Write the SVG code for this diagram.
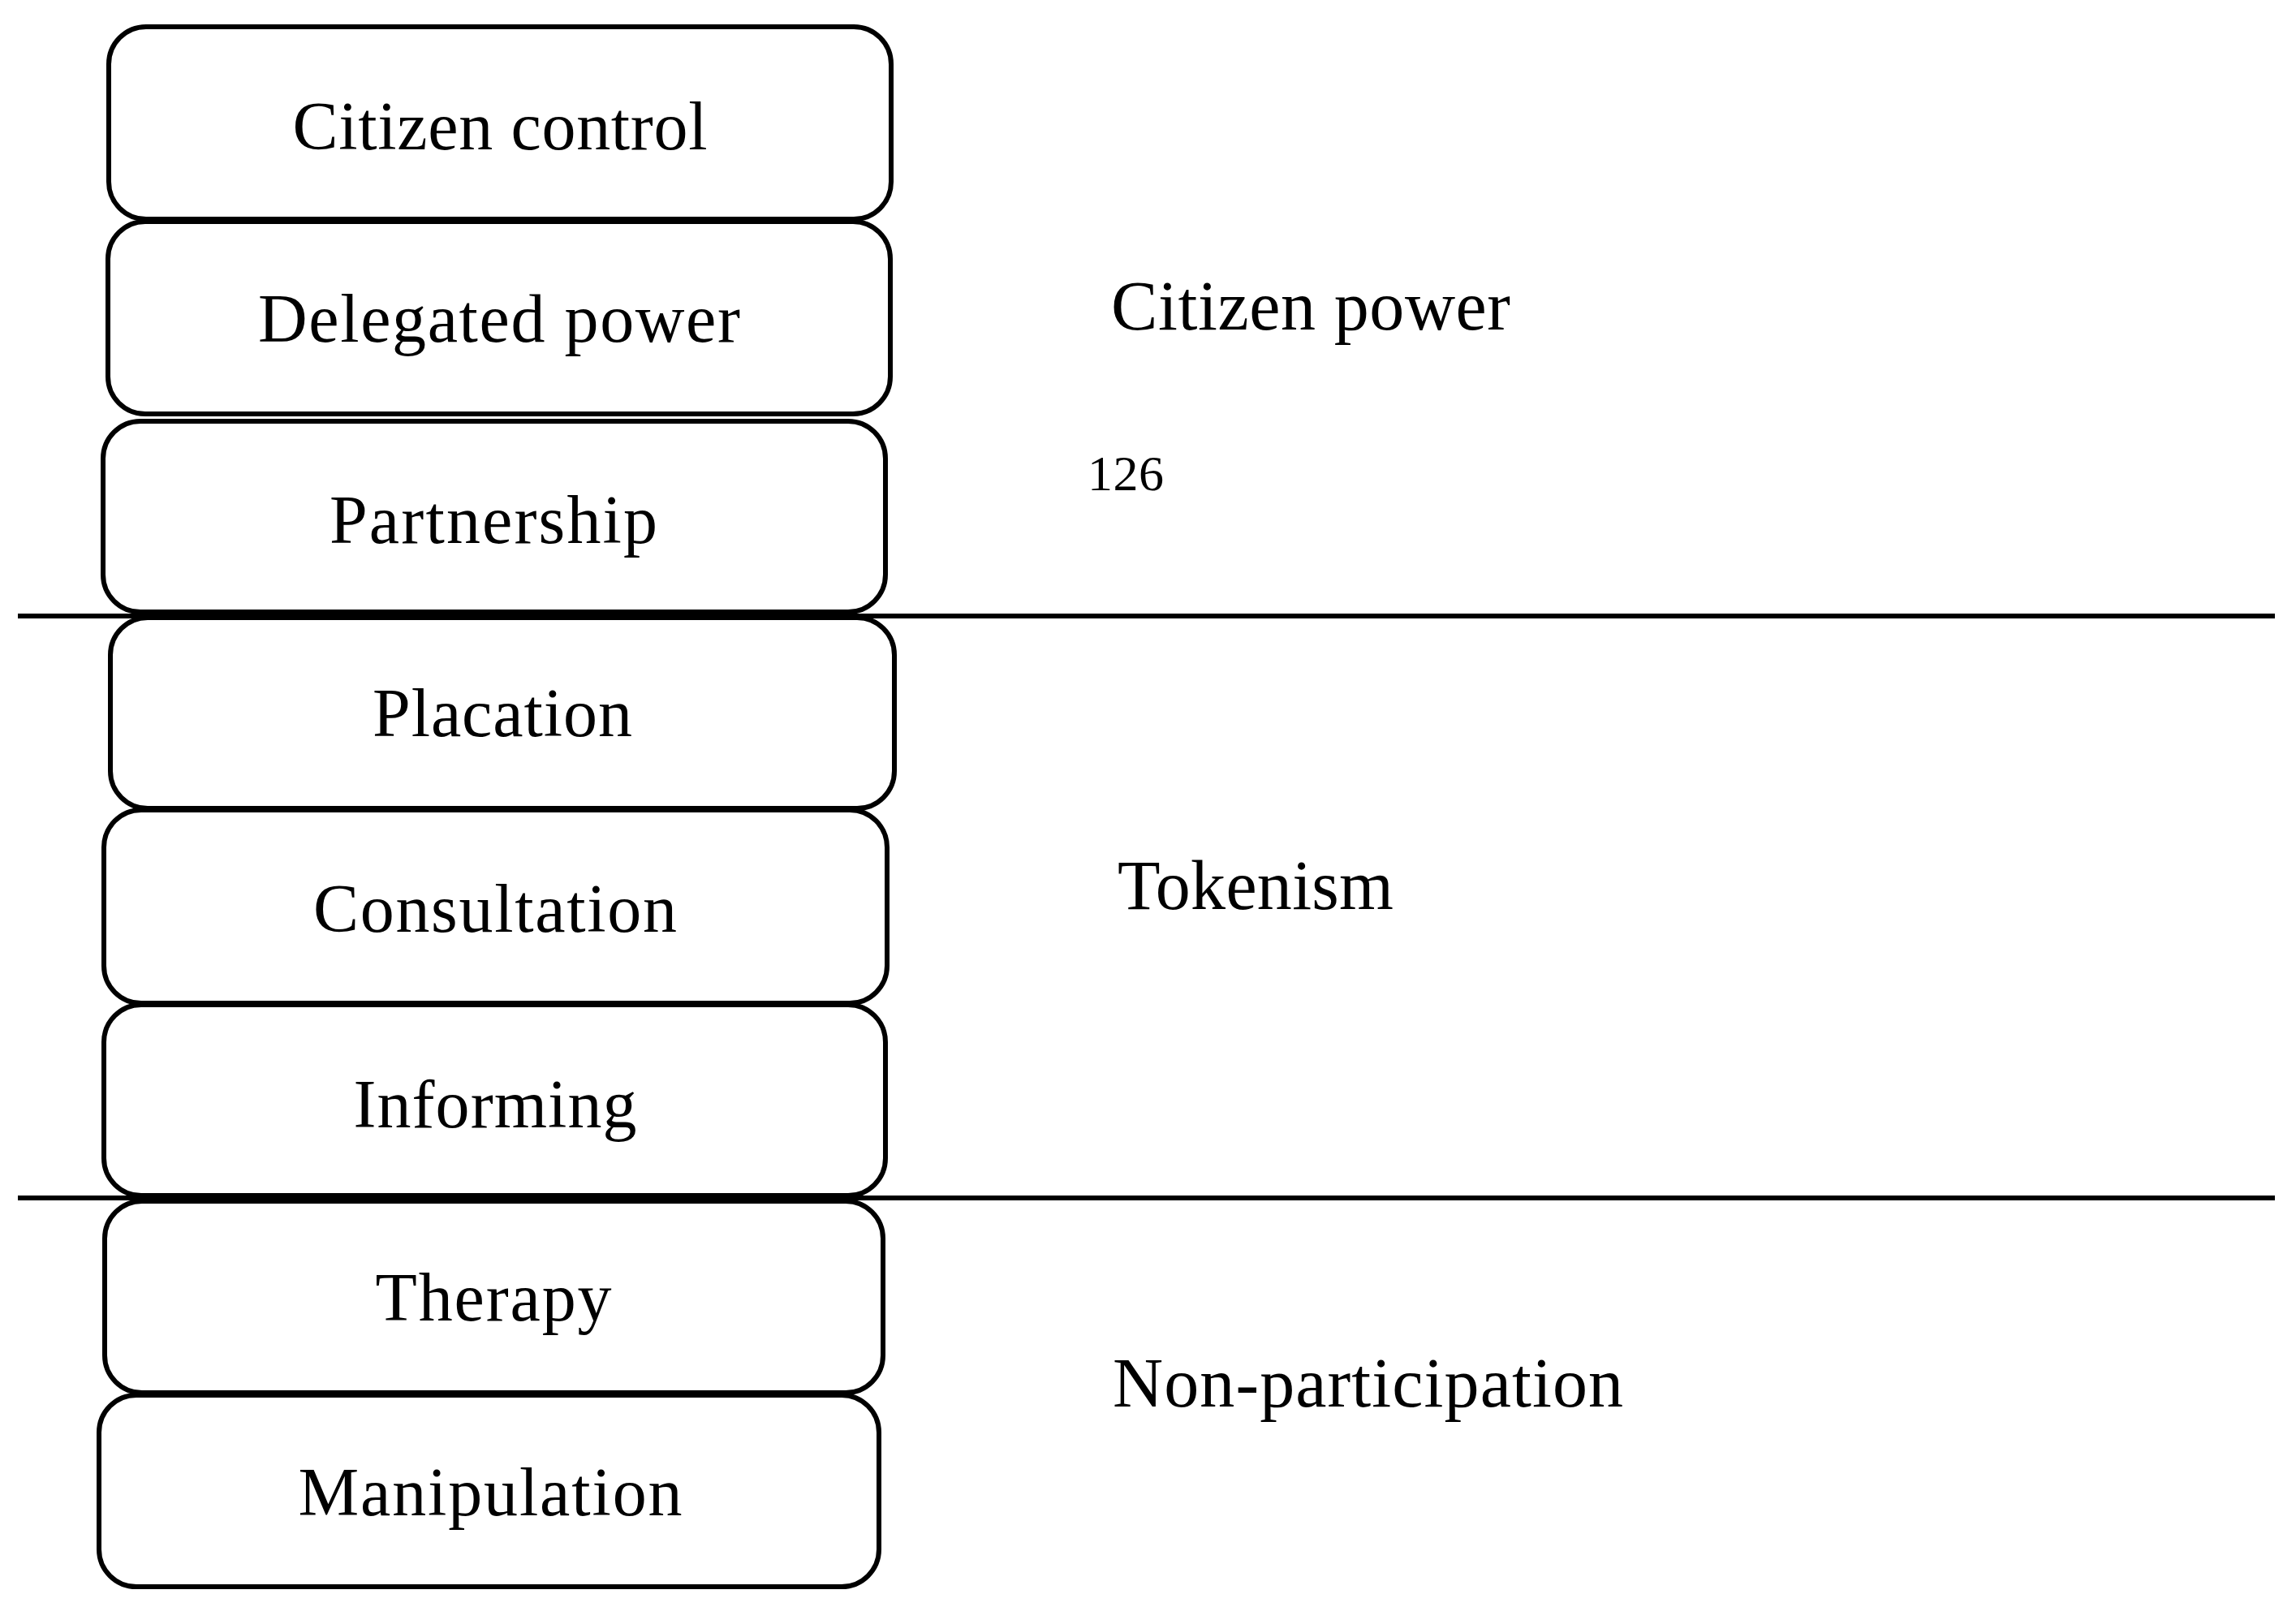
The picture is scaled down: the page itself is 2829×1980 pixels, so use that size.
<svg xmlns="http://www.w3.org/2000/svg" width="2829" height="1980" viewBox="0 0 2829 1980">
<style>
.box{fill:#fff;stroke:#000;stroke-width:6}
.lbl{font-family:"Liberation Serif","Times New Roman",serif;font-size:84px;fill:#000;text-anchor:middle}
.side{font-family:"Liberation Serif","Times New Roman",serif;font-size:86px;fill:#000}
.num{font-family:"Liberation Serif","Times New Roman",serif;font-size:62px;fill:#000}
.div{stroke:#000;stroke-width:6;fill:none}
</style>
<rect width="2829" height="1980" fill="#fff"/>
<g id="dividers">
<line class="div" x1="22" y1="759" x2="2803" y2="759"/>
<line class="div" x1="22" y1="1476" x2="2803" y2="1476"/>
</g>
<g id="citizen-control"><rect class="box" x="134" y="33" width="964" height="237" rx="46"/><text class="lbl" x="616" y="184" textLength="511">Citizen control</text></g>
<g id="delegated-power"><rect class="box" x="133" y="273" width="964" height="237" rx="46"/><text class="lbl" x="615" y="421" textLength="594">Delegated power</text></g>
<g id="partnership"><rect class="box" x="127" y="519" width="964" height="235" rx="46"/><text class="lbl" x="608" y="669" textLength="404">Partnership</text></g>
<g id="placation"><rect class="box" x="136" y="761" width="966" height="235" rx="46"/><text class="lbl" x="619" y="907" textLength="320">Placation</text></g>
<g id="consultation"><rect class="box" x="128" y="998" width="965" height="238" rx="46"/><text class="lbl" x="610" y="1148" textLength="448">Consultation</text></g>
<g id="informing"><rect class="box" x="128" y="1238" width="963" height="235" rx="46"/><text class="lbl" x="610" y="1389" textLength="349">Informing</text></g>
<g id="therapy"><rect class="box" x="129" y="1480" width="959" height="236" rx="46"/><text class="lbl" x="608" y="1627" textLength="291">Therapy</text></g>
<g id="manipulation"><rect class="box" x="122" y="1719" width="961" height="236" rx="46"/><text class="lbl" x="604" y="1867" textLength="473">Manipulation</text></g>
<g id="citizen-power"><text class="side" x="1369" y="406" textLength="492">Citizen power</text></g>
<g id="num-126"><text class="num" x="1340" y="604" textLength="94">126</text></g>
<g id="tokenism"><text class="side" x="1377" y="1120" textLength="340">Tokenism</text></g>
<g id="non-participation"><text class="side" x="1371" y="1733" textLength="629">Non-participation</text></g>
</svg>
